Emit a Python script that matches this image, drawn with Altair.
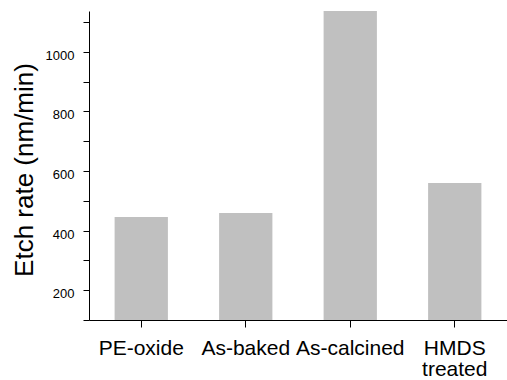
import altair as alt
import pandas as pd

# Etch rate of the four film treatments
treatments = ["PE-oxide", "As-baked", "As-calcined", "HMDS treated"]
etch_rates = [446, 459, 1137, 560]

y_ticks = [100, 200, 300, 400, 500, 600, 700, 800, 900, 1000, 1100]

df = pd.DataFrame({"treatment": treatments, "rate": etch_rates})

FONT = "Liberation Sans"

bars = alt.Chart(df).mark_bar(color="#c0c0c0").encode(
    x=alt.X(
        "treatment:N",
        sort=treatments,
        scale=alt.Scale(paddingInner=0.49, paddingOuter=0.245),
        axis=alt.Axis(
            title=None,
            labelAngle=0,
            labelFont=FONT,
            labelFontSize=21,
            labelColor="black",
            labelBaseline="top",
            labelPadding=10,
            labelLineHeight=21,
            labelExpr="split(datum.label, ' ')",
            tickSize=7,
            tickColor="black",
            domainColor="black",
            grid=False,
        ),
    ),
    y=alt.Y(
        "rate:Q",
        scale=alt.Scale(domain=[100, 1137], zero=False, nice=False),
        axis=alt.Axis(
            title="Etch rate (nm/min)",
            titleFont=FONT,
            titleFontSize=26,
            titleFontWeight="normal",
            titleColor="black",
            titleAngle=270,
            titleAlign="center",
            titleBaseline="alphabetic",
            titleX=-57,
            titleY=158.5,
            values=y_ticks,
            format="d",
            labelExpr="datum.value % 200 === 0 ? datum.label : ''",
            labelFont=FONT,
            labelFontSize=13,
            labelColor="black",
            labelBaseline="alphabetic",
            labelOffset=7.5,
            labelPadding=9,
            labelOverlap=False,
            labelFlush=False,
            tickSize=6,
            tickColor="black",
            domainColor="black",
            grid=False,
        ),
    ),
    y2=alt.datum(100),
)

chart = bars.properties(
    width=418,
    height=309,
    autosize=alt.AutoSizeParams(type="none"),
    padding={"left": 89, "top": 11, "right": 0, "bottom": 60},
    background="white",
).configure_view(stroke=None)

chart.save("out.html", embed_options={"renderer": "svg", "actions": False})
